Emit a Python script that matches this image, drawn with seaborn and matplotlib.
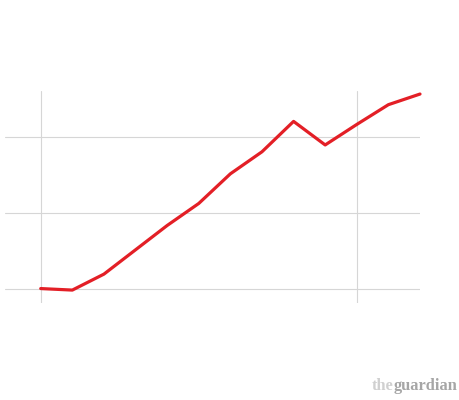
import numpy as np
import pandas as pd
import matplotlib.pyplot as plt
import seaborn as sns

# Veri
years = list(range(2000, 2013))
values = [0.01, -0.01, 0.20, 0.52, 0.84, 1.13, 1.52, 1.81, 2.21, 1.90, 2.17, 2.43, 2.57]
y_grid = [0, 1, 2]
x_grid = [2000, 2010]

df = pd.DataFrame({"year": years, "value": values})

sns.set_style("white")
fig = plt.figure(figsize=(4.6, 4.0), dpi=100)
ax = fig.add_axes([5 / 460, 97 / 400, 415 / 460, 212 / 400])

sns.lineplot(data=df, x="year", y="value", ax=ax, color="#e31f26",
             linewidth=2.3, clip_on=False, zorder=3)

ax.set_xlim(2000 - 1.13, 2012)
ax.set_ylim(-0.18, 2.61)
ax.set_xticks(x_grid)
ax.set_yticks(y_grid)
ax.grid(True, color="#d6d6d6", linewidth=0.8)
ax.tick_params(length=0, labelbottom=False, labelleft=False)
for s in ax.spines.values():
    s.set_visible(False)
ax.set_xlabel("")
ax.set_ylabel("")

# logo: "the" + "guardian" yan yana
fs = 11.8
t1 = fig.text(0, 0.025, "the", color="#d0d0d0", fontsize=fs, fontweight="bold",
              family="Liberation Serif", ha="left", va="baseline")
t2 = fig.text(0, 0.025, "guardian", color="#a6a6a6", fontsize=fs, fontweight="bold",
              family="Liberation Serif", ha="left", va="baseline")
r = fig.canvas.get_renderer()
w1 = t1.get_window_extent(r).width
w2 = t2.get_window_extent(r).width
right = 457
t1.set_x((right - w1 - w2) / 460)
t2.set_x((right - w2) / 460)

fig.savefig("out.png", dpi=100)
